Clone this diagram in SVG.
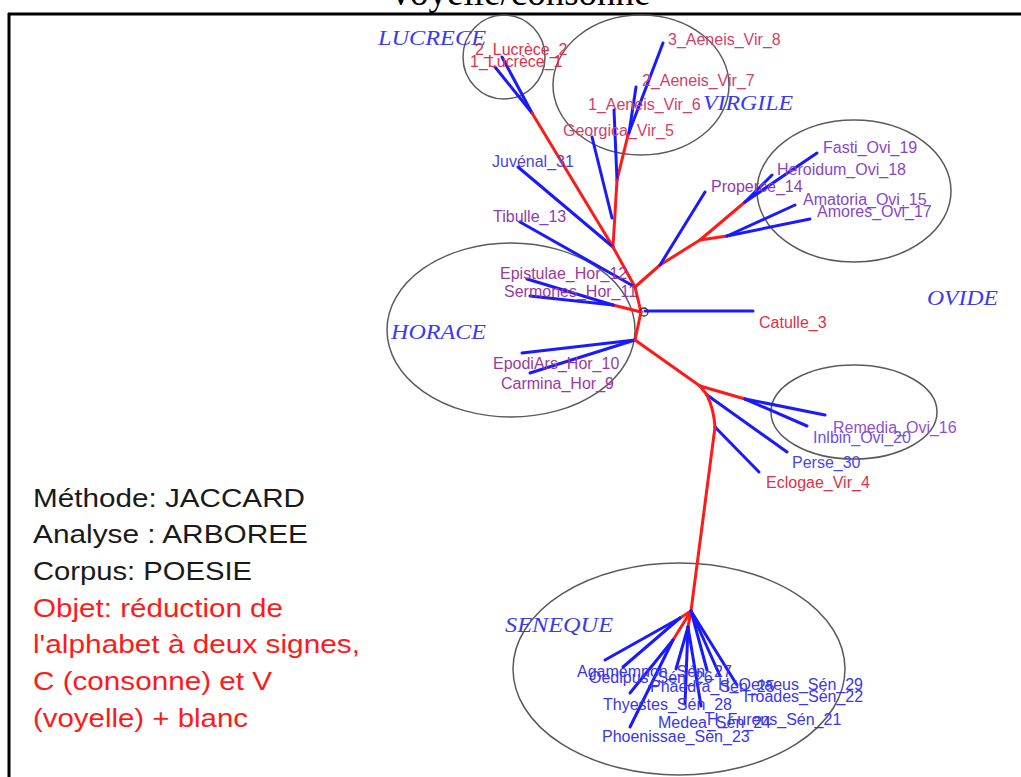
<svg xmlns="http://www.w3.org/2000/svg" width="1021" height="777" viewBox="0 0 1021 777">
<style>
.lbl{font-family:"Liberation Sans",Arial,sans-serif;font-size:16px}
.grp{font-family:"Liberation Serif","Times New Roman",serif;font-style:italic;font-size:21px;fill:#3a3af0}
.leg{font-family:"Liberation Sans",Arial,sans-serif;font-size:25px}
.ell{fill:none;stroke:#5a5a5a;stroke-width:1.5}
.b{stroke:#1a1aff;stroke-width:3;fill:none;stroke-linecap:round}
.r{stroke:#ff1a1a;stroke-width:3;fill:none;stroke-linecap:round;stroke-linejoin:round}
.lr{fill:#e0304a}
.lv{fill:#d2406a}
.lp{fill:#8c3cb4}
.lh{fill:#9a3a9e}
.lo{fill:#8646cc}
.lb{fill:#3a36ee}
</style>
<rect x="0" y="0" width="1021" height="777" fill="#ffffff"/>
<g id="frame">
<line x1="8" y1="14" x2="1021" y2="14" stroke="#000" stroke-width="3"/>
<line x1="9" y1="13" x2="9" y2="777" stroke="#000" stroke-width="3"/>
</g>
<text id="title" x="521" y="5" text-anchor="middle" font-family="'Liberation Serif','Times New Roman',serif" font-size="37" fill="#000">voyelle/consonne</text>

<g id="cluster-lucrece"><ellipse class="ell" cx="504" cy="57" rx="41" ry="42"/><text class="grp" x="378" y="45" textLength="108" lengthAdjust="spacingAndGlyphs">LUCRECE</text></g>
<g id="cluster-virgile"><ellipse class="ell" cx="641" cy="85" rx="88" ry="70"/><text class="grp" x="703" y="110" textLength="90" lengthAdjust="spacingAndGlyphs">VIRGILE</text></g>
<g id="cluster-ovide"><ellipse class="ell" cx="854" cy="191" rx="97" ry="71"/><text class="grp" x="927" y="305" textLength="71" lengthAdjust="spacingAndGlyphs">OVIDE</text></g>
<g id="cluster-horace"><ellipse class="ell" cx="511" cy="330" rx="124" ry="87"/><text class="grp" x="391" y="339" textLength="95" lengthAdjust="spacingAndGlyphs">HORACE</text></g>
<g id="cluster-ovide2"><ellipse class="ell" cx="854" cy="412" rx="83" ry="47"/></g>
<g id="cluster-seneque"><ellipse class="ell" cx="679" cy="669" rx="166" ry="106"/><text class="grp" x="505" y="632" textLength="108" lengthAdjust="spacingAndGlyphs">SENEQUE</text></g>

<g id="connectors">
<!-- Lucrece -->
<line class="b" x1="495" y1="67" x2="532" y2="113"/>
<line class="b" x1="502" y1="57" x2="532" y2="113"/>
<line class="r" x1="532" y1="113" x2="613" y2="247"/>
<!-- Virgile -->
<line class="b" x1="663" y1="43" x2="628" y2="135"/>
<line class="b" x1="636" y1="87" x2="629" y2="133"/>
<line class="r" x1="628" y1="135" x2="617" y2="180"/>
<line class="b" x1="614" y1="110" x2="617" y2="180"/>
<line class="r" x1="617" y1="180" x2="613" y2="247"/>
<line class="b" x1="592" y1="137" x2="612" y2="218"/>
<!-- Juvenal, Tibulle -->
<line class="b" x1="518" y1="167" x2="613" y2="247"/>
<line class="r" x1="613" y1="247" x2="635" y2="287"/>
<line class="b" x1="520" y1="222" x2="635" y2="287"/>
<!-- Ovide branch -->
<polyline class="r" points="635,287 660,265 700,240"/>
<line class="b" x1="705" y1="192" x2="660" y2="265"/>
<line class="r" x1="700" y1="240" x2="745" y2="202"/>
<line class="b" x1="745" y1="202" x2="772" y2="175"/>
<line class="b" x1="745" y1="202" x2="817" y2="153"/>
<line class="r" x1="700" y1="240" x2="727" y2="236"/>
<line class="b" x1="727" y1="236" x2="795" y2="205"/>
<line class="b" x1="727" y1="236" x2="810" y2="219"/>
<!-- centre -->
<line class="r" x1="635" y1="287" x2="641" y2="312"/>
<line class="r" x1="641" y1="312" x2="613" y2="305"/>
<line class="b" x1="613" y1="305" x2="527" y2="279"/>
<line class="b" x1="613" y1="305" x2="530" y2="296"/>
<line class="b" x1="645" y1="311" x2="753" y2="311"/>
<circle cx="644" cy="312" r="4" fill="none" stroke="#333" stroke-width="1.3"/>
<line class="r" x1="641" y1="312" x2="635" y2="340"/>
<line class="b" x1="635" y1="340" x2="522" y2="353"/>
<line class="b" x1="635" y1="340" x2="530" y2="373"/>
<!-- lower branch -->
<line class="r" x1="635" y1="340" x2="700" y2="386"/>
<line class="r" x1="700" y1="386" x2="745" y2="399"/>
<line class="b" x1="745" y1="399" x2="825" y2="415"/>
<line class="b" x1="745" y1="399" x2="807" y2="426"/>
<line class="r" x1="700" y1="386" x2="707" y2="395"/>
<line class="b" x1="707" y1="395" x2="787" y2="452"/>
<path class="r" d="M707,395 Q714,410 715,427"/>
<line class="b" x1="715" y1="427" x2="759" y2="472"/>
<line class="r" x1="715" y1="427" x2="691" y2="611"/>
<!-- Seneque -->
<line class="r" x1="691" y1="611" x2="680" y2="618"/>
<line class="r" x1="691" y1="611" x2="673" y2="640"/>
<line class="r" x1="691" y1="611" x2="688" y2="627"/>
<line class="b" x1="680" y1="618" x2="605" y2="660"/>
<line class="b" x1="680" y1="618" x2="623" y2="667"/>
<line class="b" x1="673" y1="640" x2="630" y2="693"/>
<line class="b" x1="673" y1="640" x2="630" y2="727"/>
<line class="b" x1="688" y1="627" x2="676" y2="669"/>
<line class="b" x1="688" y1="627" x2="685" y2="704"/>
<line class="b" x1="688" y1="627" x2="701" y2="706"/>
<line class="b" x1="691" y1="611" x2="707" y2="670"/>
<line class="b" x1="691" y1="611" x2="720" y2="676"/>
<line class="b" x1="691" y1="611" x2="737" y2="685"/>
</g>

<g id="n-lucrece2"><text class="lbl lr" x="475" y="55">2_Lucrèce_2</text></g>
<g id="n-lucrece1"><text class="lbl lr" x="470" y="67">1_Lucrèce_1</text></g>
<g id="n-aeneis8"><text class="lbl lv" x="668" y="45">3_Aeneis_Vir_8</text></g>
<g id="n-aeneis7"><text class="lbl lv" x="642" y="86">2_Aeneis_Vir_7</text></g>
<g id="n-aeneis6"><text class="lbl lv" x="588" y="110">1_Aeneis_Vir_6</text></g>
<g id="n-georgica5"><text class="lbl lv" x="563" y="136">Georgica_Vir_5</text></g>
<g id="n-juvenal31"><text class="lbl" fill="#4a46d8" x="492" y="167">Juvénal_31</text></g>
<g id="n-tibulle13"><text class="lbl lp" x="493" y="222">Tibulle_13</text></g>
<g id="n-properce14"><text class="lbl lp" x="711" y="192">Properce_14</text></g>
<g id="n-fasti19"><text class="lbl lo" x="823" y="153">Fasti_Ovi_19</text></g>
<g id="n-heroidum18"><text class="lbl lo" x="777" y="175">Heroidum_Ovi_18</text></g>
<g id="n-amatoria15"><text class="lbl lo" x="803" y="205">Amatoria_Ovi_15</text></g>
<g id="n-amores17"><text class="lbl lo" x="817" y="217">Amores_Ovi_17</text></g>
<g id="n-epistulae12"><text class="lbl lh" x="500" y="279">Epistulae_Hor_12</text></g>
<g id="n-sermones11"><text class="lbl lh" x="504" y="297">Sermones_Hor_11</text></g>
<g id="n-epodi10"><text class="lbl lh" x="493" y="369">EpodiArs_Hor_10</text></g>
<g id="n-carmina9"><text class="lbl lh" x="501" y="389">Carmina_Hor_9</text></g>
<g id="n-catulle3"><text class="lbl lr" x="759" y="328">Catulle_3</text></g>
<g id="n-remedia16"><text class="lbl" fill="#9050d4" x="833" y="433">Remedia_Ovi_16</text></g>
<g id="n-inibin20"><text class="lbl" fill="#7050e4" x="813" y="443">Inlbin_Ovi_20</text></g>
<g id="n-perse30"><text class="lbl" fill="#4a46f0" x="792" y="468">Perse_30</text></g>
<g id="n-eclogae4"><text class="lbl lr" x="766" y="488">Eclogae_Vir_4</text></g>
<g id="n-agamemnon27"><text class="lbl lb" x="577" y="677">Agamemnon_Sén_27</text></g>
<g id="n-oedipus26"><text class="lbl lb" x="589" y="683">Oedipus_Sén_26</text></g>
<g id="n-phaedra25"><text class="lbl lb" x="650" y="692">Phaedra_Sén_25</text></g>
<g id="n-oetaeus29"><text class="lbl lb" x="718" y="690">H_Oetaeus_Sén_29</text></g>
<g id="n-troades22"><text class="lbl lb" x="741" y="702">Troades_Sén_22</text></g>
<g id="n-thyestes28"><text class="lbl lb" x="603" y="710">Thyestes_Sén_28</text></g>
<g id="n-medea24"><text class="lbl lb" x="658" y="728">Medea_Sén_24</text></g>
<g id="n-furens21"><text class="lbl lb" x="707" y="725">H_Furens_Sén_21</text></g>
<g id="n-phoenissae23"><text class="lbl lb" x="602" y="742">Phoenissae_Sén_23</text></g>

<g id="legend">
<text class="leg" fill="#1a1a1a" x="33" y="507" textLength="272" lengthAdjust="spacingAndGlyphs">Méthode: JACCARD</text>
<text class="leg" fill="#1a1a1a" x="33" y="543" textLength="275" lengthAdjust="spacingAndGlyphs">Analyse : ARBOREE</text>
<text class="leg" fill="#1a1a1a" x="33" y="580" textLength="219" lengthAdjust="spacingAndGlyphs">Corpus: POESIE</text>
<text class="leg" fill="#ff1a1a" x="33" y="617" textLength="250" lengthAdjust="spacingAndGlyphs">Objet: réduction de</text>
<text class="leg" fill="#ff1a1a" x="33" y="653" textLength="327" lengthAdjust="spacingAndGlyphs">l'alphabet à deux signes,</text>
<text class="leg" fill="#ff1a1a" x="33" y="690" textLength="239" lengthAdjust="spacingAndGlyphs">C (consonne) et V</text>
<text class="leg" fill="#ff1a1a" x="33" y="727" textLength="215" lengthAdjust="spacingAndGlyphs">(voyelle) + blanc</text>
</g>
</svg>
